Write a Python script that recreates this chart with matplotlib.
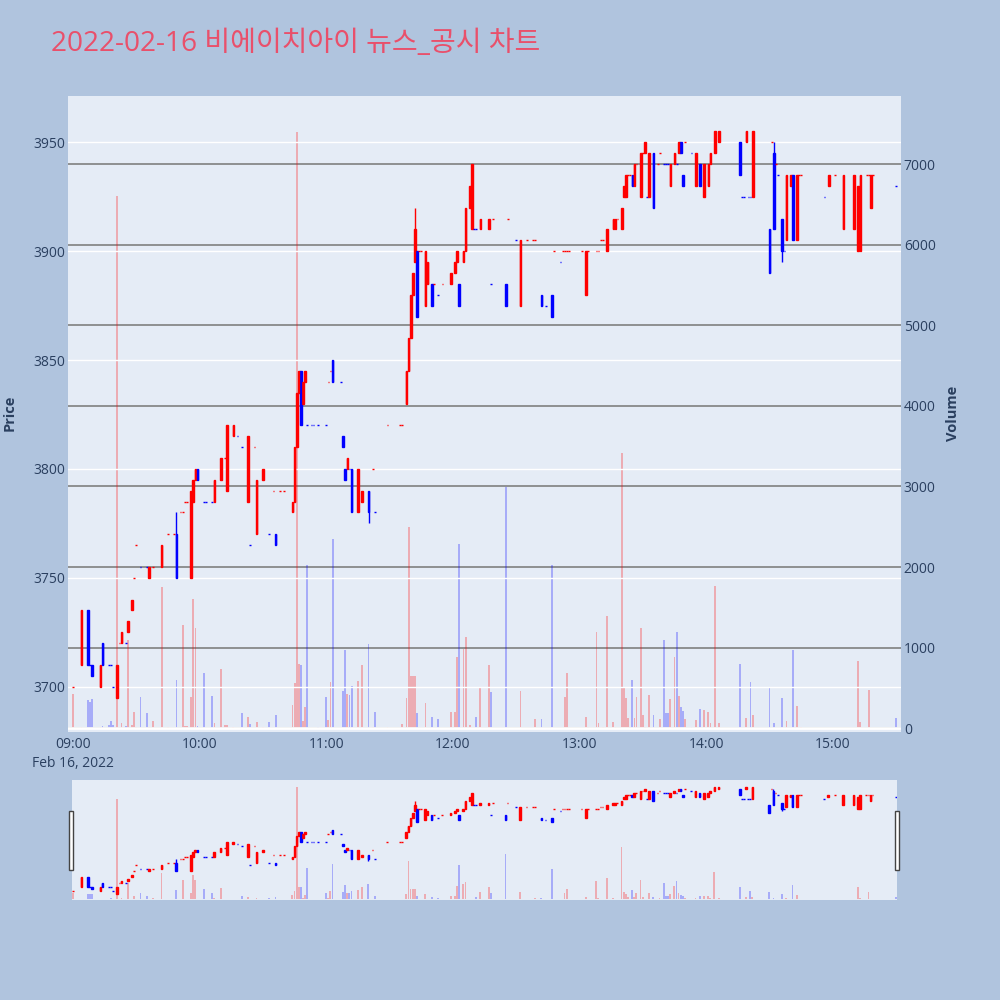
import numpy as np
import pandas as pd
import matplotlib
matplotlib.use('Agg')
import matplotlib.pyplot as plt
import matplotlib.dates as mdates
from matplotlib.patches import Rectangle

plt.rcParams['font.family'] = ['Open Sans', 'Noto Sans CJK KR', 'DejaVu Sans']

TITLE = '2022-02-16 비에이치아이 뉴스_공시 차트'
DAY = '2022-02-16'

# 분봉 데이터 (거래가 있었던 분만)
times = [
    # 09시
    '09:00', '09:04', '09:07', '09:08', '09:09', '09:13', '09:14', '09:17', '09:18', '09:19',
    '09:21', '09:22', '09:23', '09:25', '09:26', '09:28', '09:29', '09:30', '09:32', '09:35',
    '09:36', '09:38', '09:42', '09:45', '09:48', '09:49', '09:51', '09:52', '09:53', '09:54',
    '09:56', '09:57', '09:58', '09:59',
    # 10시
    '10:02', '10:03', '10:06', '10:07', '10:10', '10:12', '10:13', '10:16', '10:18', '10:20',
    '10:23', '10:24', '10:26', '10:27', '10:30', '10:33', '10:35', '10:36', '10:38', '10:40',
    '10:44', '10:45', '10:46', '10:47', '10:48', '10:49', '10:50', '10:51', '10:53', '10:54',
    '10:56',
    # 11시
    '11:00', '11:01', '11:02', '11:03', '11:07', '11:08', '11:09', '11:10', '11:11', '11:12',
    '11:15', '11:17', '11:20', '11:22', '11:23', '11:29', '11:35', '11:36', '11:38', '11:39',
    '11:40', '11:41', '11:42', '11:43', '11:44', '11:45', '11:47', '11:48', '11:50', '11:51',
    '11:53', '11:55', '11:59',
    # 12시
    '12:01', '12:02', '12:03', '12:05', '12:06', '12:08', '12:09', '12:10', '12:11', '12:13',
    '12:17', '12:18', '12:19', '12:25', '12:26', '12:30', '12:32', '12:35', '12:38', '12:39',
    '12:42', '12:44', '12:47', '12:48', '12:51', '12:52', '12:53', '12:54', '12:55',
    # 13시
    '13:01', '13:03', '13:04', '13:08', '13:09', '13:10', '13:11', '13:13', '13:16', '13:17',
    '13:18', '13:20', '13:21', '13:22', '13:23', '13:24', '13:25', '13:26', '13:27', '13:29',
    '13:30', '13:31', '13:32', '13:33', '13:35', '13:37', '13:38', '13:40', '13:41', '13:42',
    '13:43', '13:45', '13:46', '13:47', '13:48', '13:49', '13:50', '13:53', '13:55', '13:57',
    # 14시
    '13:59', '14:01', '14:02', '14:04', '14:06', '14:16', '14:17', '14:18', '14:19', '14:20',
    '14:21', '14:22', '14:30', '14:31', '14:32', '14:33', '14:34', '14:36', '14:37', '14:38',
    '14:40', '14:41', '14:43', '14:44', '14:45', '14:56', '14:58',
    # 15시
    '15:01', '15:05', '15:10', '15:12', '15:13', '15:16', '15:17', '15:18', '15:19', '15:30',
]

opens = [
    3700, 3710, 3735, 3710, 3710, 3700, 3720, 3710, 3710, 3700,
    3695, 3720, 3720, 3720, 3725, 3735, 3750, 3765, 3755, 3755,
    3750, 3755, 3755, 3770, 3770, 3770, 3780, 3780, 3785, 3785,
    3750, 3785, 3795, 3800,
    3785, 3785, 3785, 3785, 3795, 3805, 3790, 3815, 3815, 3810,
    3785, 3765, 3810, 3770, 3795, 3770, 3790, 3770, 3790, 3790,
    3780, 3785, 3810, 3835, 3845, 3830, 3840, 3820, 3820, 3820,
    3820,
    3820, 3840, 3845, 3850, 3840, 3815, 3800, 3800, 3800, 3800,
    3780, 3785, 3790, 3800, 3780, 3820, 3820, 3820, 3830, 3845,
    3860, 3880, 3895, 3900, 3900, 3900, 3875, 3885, 3885, 3885,
    3880, 3885, 3885,
    3890, 3895, 3885, 3895, 3900, 3920, 3910, 3910, 3910, 3910,
    3910, 3885, 3915, 3885, 3915, 3905, 3875, 3905, 3905, 3905,
    3880, 3875, 3880, 3900, 3895, 3900, 3900, 3900, 3900,
    3900, 3880, 3900, 3900, 3900, 3905, 3905, 3900, 3910, 3910,
    3915, 3910, 3925, 3925, 3935, 3935, 3935, 3930, 3940, 3925,
    3945, 3945, 3925, 3925, 3945, 3940, 3945, 3940, 3940, 3940,
    3930, 3940, 3940, 3945, 3950, 3935, 3950, 3945, 3930, 3940,
    3925, 3930, 3940, 3945, 3950, 3950, 3925, 3925, 3950, 3925,
    3925, 3925, 3910, 3950, 3945, 3940, 3935, 3915, 3900, 3905,
    3930, 3935, 3905, 3935, 3935, 3925, 3930,
    3935, 3910, 3910, 3900, 3900, 3935, 3935, 3920, 3935, 3930,
]

highs = [
    3700, 3735, 3735, 3710, 3710, 3710, 3720, 3710, 3710, 3700,
    3710, 3720, 3725, 3720, 3730, 3740, 3750, 3765, 3755, 3755,
    3755, 3755, 3765, 3770, 3770, 3780, 3780, 3780, 3785, 3785,
    3790, 3795, 3800, 3800,
    3785, 3785, 3785, 3795, 3805, 3805, 3820, 3820, 3815, 3810,
    3815, 3765, 3810, 3795, 3800, 3770, 3790, 3770, 3790, 3790,
    3785, 3810, 3835, 3845, 3845, 3840, 3845, 3820, 3820, 3820,
    3820,
    3820, 3840, 3845, 3850, 3840, 3815, 3800, 3805, 3800, 3800,
    3800, 3790, 3790, 3800, 3780, 3820, 3820, 3820, 3845, 3860,
    3880, 3890, 3920, 3900, 3900, 3900, 3900, 3895, 3885, 3885,
    3880, 3885, 3890,
    3895, 3900, 3885, 3900, 3920, 3930, 3940, 3910, 3910, 3915,
    3915, 3885, 3915, 3885, 3915, 3905, 3905, 3905, 3905, 3905,
    3880, 3875, 3880, 3900, 3895, 3900, 3900, 3900, 3900,
    3900, 3900, 3900, 3900, 3900, 3905, 3905, 3910, 3915, 3915,
    3915, 3920, 3930, 3935, 3935, 3935, 3935, 3940, 3940, 3945,
    3945, 3950, 3925, 3945, 3945, 3940, 3945, 3940, 3940, 3940,
    3940, 3945, 3940, 3950, 3950, 3935, 3950, 3945, 3945, 3940,
    3940, 3940, 3945, 3955, 3955, 3950, 3925, 3925, 3955, 3925,
    3925, 3955, 3910, 3950, 3950, 3940, 3935, 3915, 3900, 3935,
    3935, 3935, 3935, 3935, 3935, 3925, 3935,
    3935, 3935, 3935, 3930, 3935, 3935, 3935, 3935, 3935, 3930,
]

lows = [
    3700, 3710, 3710, 3710, 3705, 3700, 3710, 3710, 3710, 3700,
    3695, 3720, 3720, 3720, 3725, 3735, 3750, 3765, 3755, 3755,
    3750, 3755, 3755, 3770, 3770, 3750, 3780, 3780, 3785, 3785,
    3750, 3785, 3795, 3795,
    3785, 3785, 3785, 3785, 3795, 3805, 3790, 3815, 3815, 3810,
    3785, 3765, 3810, 3770, 3795, 3770, 3790, 3765, 3790, 3790,
    3780, 3785, 3810, 3835, 3820, 3830, 3840, 3820, 3820, 3820,
    3820,
    3820, 3840, 3845, 3840, 3840, 3810, 3795, 3800, 3800, 3780,
    3780, 3785, 3775, 3800, 3780, 3820, 3820, 3820, 3830, 3845,
    3860, 3880, 3895, 3870, 3900, 3900, 3875, 3885, 3875, 3885,
    3880, 3885, 3885,
    3890, 3895, 3875, 3895, 3900, 3920, 3910, 3910, 3910, 3910,
    3910, 3885, 3915, 3875, 3915, 3905, 3875, 3905, 3905, 3905,
    3875, 3875, 3870, 3900, 3895, 3900, 3900, 3900, 3900,
    3900, 3880, 3900, 3900, 3900, 3905, 3905, 3900, 3910, 3910,
    3915, 3910, 3925, 3925, 3935, 3935, 3930, 3930, 3940, 3925,
    3945, 3945, 3925, 3925, 3920, 3940, 3945, 3940, 3940, 3940,
    3930, 3940, 3940, 3945, 3945, 3930, 3950, 3945, 3930, 3930,
    3925, 3930, 3940, 3945, 3950, 3935, 3925, 3925, 3950, 3925,
    3925, 3925, 3890, 3950, 3910, 3940, 3935, 3895, 3900, 3905,
    3930, 3905, 3905, 3935, 3935, 3925, 3930,
    3935, 3910, 3910, 3900, 3900, 3935, 3935, 3920, 3935, 3930,
]

closes = [
    3700, 3735, 3710, 3710, 3705, 3710, 3710, 3710, 3710, 3700,
    3710, 3720, 3725, 3720, 3730, 3740, 3750, 3765, 3755, 3755,
    3755, 3755, 3765, 3770, 3770, 3750, 3780, 3780, 3785, 3785,
    3790, 3795, 3800, 3795,
    3785, 3785, 3785, 3795, 3805, 3805, 3820, 3820, 3815, 3810,
    3815, 3765, 3810, 3795, 3800, 3770, 3790, 3765, 3790, 3790,
    3785, 3810, 3835, 3845, 3820, 3840, 3845, 3820, 3820, 3820,
    3820,
    3820, 3840, 3845, 3840, 3840, 3810, 3795, 3805, 3800, 3780,
    3800, 3790, 3780, 3800, 3780, 3820, 3820, 3820, 3845, 3860,
    3880, 3890, 3910, 3870, 3900, 3900, 3900, 3895, 3875, 3885,
    3880, 3885, 3890,
    3895, 3900, 3875, 3900, 3920, 3930, 3940, 3910, 3910, 3915,
    3915, 3885, 3915, 3875, 3915, 3905, 3905, 3905, 3905, 3905,
    3875, 3875, 3870, 3900, 3895, 3900, 3900, 3900, 3900,
    3900, 3900, 3900, 3900, 3900, 3905, 3905, 3910, 3915, 3915,
    3915, 3920, 3930, 3935, 3935, 3935, 3930, 3940, 3940, 3945,
    3945, 3950, 3925, 3945, 3920, 3940, 3945, 3940, 3940, 3940,
    3940, 3945, 3940, 3950, 3945, 3930, 3950, 3945, 3945, 3930,
    3940, 3940, 3945, 3955, 3955, 3935, 3925, 3925, 3955, 3925,
    3925, 3955, 3890, 3950, 3910, 3940, 3935, 3900, 3900, 3935,
    3935, 3905, 3935, 3935, 3935, 3925, 3935,
    3935, 3935, 3935, 3930, 3935, 3935, 3935, 3935, 3935, 3930,
]

volumes = [
    430, 20, 350, 330, 360, 20, 30, 40, 90, 40,
    6600, 20, 60, 30, 1100, 40, 200, 20, 390, 190,
    20, 90, 1750, 20, 10, 600, 10, 1280, 30, 30,
    390, 1600, 1250, 30,
    680, 10, 400, 60, 740, 40, 40, 20, 10, 190,
    140, 50, 10, 80, 20, 80, 10, 170, 10, 10,
    290, 560, 7400, 800, 790, 90, 260, 2030, 10, 10,
    15,
    390, 100, 570, 2350, 10, 460, 970, 430, 410, 520,
    590, 780, 1040, 20, 200, 15, 10, 50, 380, 2500,
    650, 650, 650, 190, 10, 10, 320, 10, 140, 10,
    110, 10, 200,
    200, 880, 2290, 990, 1130, 40, 10, 10, 140, 500,
    790, 450, 10, 2990, 10, 10, 460, 10, 10, 110,
    110, 10, 2020, 10, 10, 10, 390, 680, 10,
    10, 140, 20, 1200, 60, 10, 20, 1390, 80, 20,
    10, 3410, 510, 370, 130, 20, 600, 130, 390, 1250,
    160, 20, 10, 410, 160, 10, 110, 1100, 190, 190,
    360, 880, 1200, 400, 260, 220, 110, 15, 100, 240,
    230, 200, 60, 1770, 60, 800, 10, 10, 130, 10,
    580, 170, 500, 10, 60, 10, 10, 370, 10, 90,
    10, 970, 280, 10, 20, 10, 10,
    10, 10, 10, 840, 80, 10, 470, 10, 10, 130,
]

price_ticks = [3700, 3750, 3800, 3850, 3900, 3950]
volume_ticks = [0, 1000, 2000, 3000, 4000, 5000, 6000, 7000]
hour_ticks = ['09:00', '10:00', '11:00', '12:00', '13:00', '14:00', '15:00']

UP = '#FF0000'
DOWN = '#0000FF'
PAPER = '#B0C4DE'
PLOT_BG = '#E5ECF6'
FONT_COLOR = '#2a3f5f'
MIN = 1.0 / 1440


def candle_direction(o, c):
    """plotly 방식: 시가==종가면 직전 종가 대비, 같으면 직전 방향 유지"""
    inc = []
    prev_c, prev_dir = None, True
    for oi, ci in zip(o, c):
        if ci > oi:
            d = True
        elif ci < oi:
            d = False
        elif prev_c is not None and ci != prev_c:
            d = ci > prev_c
        else:
            d = prev_dir
        inc.append(d)
        prev_c, prev_dir = ci, d
    return np.array(inc)


def draw_chart(ax_p, ax_v, x, o, h, l, c, v, cols):
    ax_v.bar(x, v, width=0.85 * MIN, color=cols, alpha=0.27, linewidth=0)
    ax_p.vlines(x, l, h, colors=cols, linewidth=1)
    ax_p.bar(x, np.abs(c - o), bottom=np.minimum(o, c), width=0.8 * MIN,
             color=cols, edgecolor=cols, linewidth=1)


def main():
    n = len(times)
    assert all(len(a) == n for a in [opens, highs, lows, closes, volumes])

    x = mdates.date2num(pd.to_datetime([f'{DAY} {t}' for t in times]))
    o = np.array(opens, float)
    h = np.array(highs, float)
    l = np.array(lows, float)
    c = np.array(closes, float)
    v = np.array(volumes, float)
    cols = np.where(candle_direction(o, c), UP, DOWN)

    fig = plt.figure(figsize=(10, 10), dpi=100, facecolor=PAPER)

    # 메인 차트
    ax_p = fig.add_axes([0.068, 0.2683, 0.833, 0.6357])
    ax_v = ax_p.twinx()
    ax_p.set_zorder(ax_v.get_zorder() + 1)
    ax_p.patch.set_visible(False)
    ax_v.patch.set_visible(True)
    ax_v.set_facecolor(PLOT_BG)

    draw_chart(ax_p, ax_v, x, o, h, l, c, v, cols)

    ax_p.set_xlim(x[0] - 2.35 * MIN, x[-1] + 2.25 * MIN)
    ax_p.set_ylim(3679.3, 3971.3)
    ax_v.set_ylim(-42, 7844)

    ax_p.set_yticks(price_ticks)
    ax_v.set_yticks(volume_ticks)
    ax_p.yaxis.grid(True, color='white', linewidth=1)
    ax_v.yaxis.grid(True, color='gray', linewidth=1.2)
    ax_v.axhline(0, color='white', linewidth=2)
    ax_p.set_axisbelow(True)
    ax_v.set_axisbelow(True)

    tick_x = mdates.date2num(pd.to_datetime([f'{DAY} {t}' for t in hour_ticks]))
    labels = list(hour_ticks)
    labels[0] = labels[0] + '\nFeb 16, 2022'
    ax_p.set_xticks(tick_x)
    ax_p.set_xticklabels(labels)
    for lbl in ax_p.get_xticklabels():
        lbl.set_linespacing(1.3)

    for ax in (ax_p, ax_v):
        for s in ax.spines.values():
            s.set_visible(False)
        ax.tick_params(length=0, labelsize=10, labelcolor=FONT_COLOR)
    ax_p.tick_params(axis='y', pad=2)
    ax_v.tick_params(axis='y', pad=2)
    ax_p.tick_params(axis='x', pad=4)

    # 레인지 슬라이더
    ax_sp = fig.add_axes([0.072, 0.100, 0.8247, 0.120])
    ax_sv = ax_sp.twinx()
    ax_sp.set_zorder(ax_sv.get_zorder() + 1)
    ax_sp.patch.set_visible(False)
    ax_sv.patch.set_visible(True)
    ax_sv.set_facecolor(PLOT_BG)
    draw_chart(ax_sp, ax_sv, x, o, h, l, c, v, cols)
    ax_sp.set_xlim(x[0] - 0.45 * MIN, x[-1] + 0.4 * MIN)
    ax_sp.set_ylim(3679.3, 3971.3)
    ax_sv.set_ylim(-42, 7844)
    for ax in (ax_sp, ax_sv):
        ax.set_xticks([])
        ax.set_yticks([])
        for s in ax.spines.values():
            s.set_visible(False)

    for hx in (0.069, 0.895):
        fig.patches.append(Rectangle((hx, 0.130), 0.004, 0.059, transform=fig.transFigure,
                                     facecolor='white', edgecolor='#444444', linewidth=1))

    # 텍스트
    fig.text(0.051, 0.949, TITLE, fontsize=20.2, color='#E9506B', ha='left', va='baseline')
    fig.text(0.010, 0.587, 'Price', rotation=90, fontsize=10.5, fontweight='bold',
             color=FONT_COLOR, ha='center', va='center')
    fig.text(0.953, 0.587, 'Volume', rotation=90, fontsize=10.5, fontweight='bold',
             color=FONT_COLOR, ha='center', va='center')

    fig.savefig('out.png', dpi=100, facecolor=PAPER)


if __name__ == '__main__':
    main()
